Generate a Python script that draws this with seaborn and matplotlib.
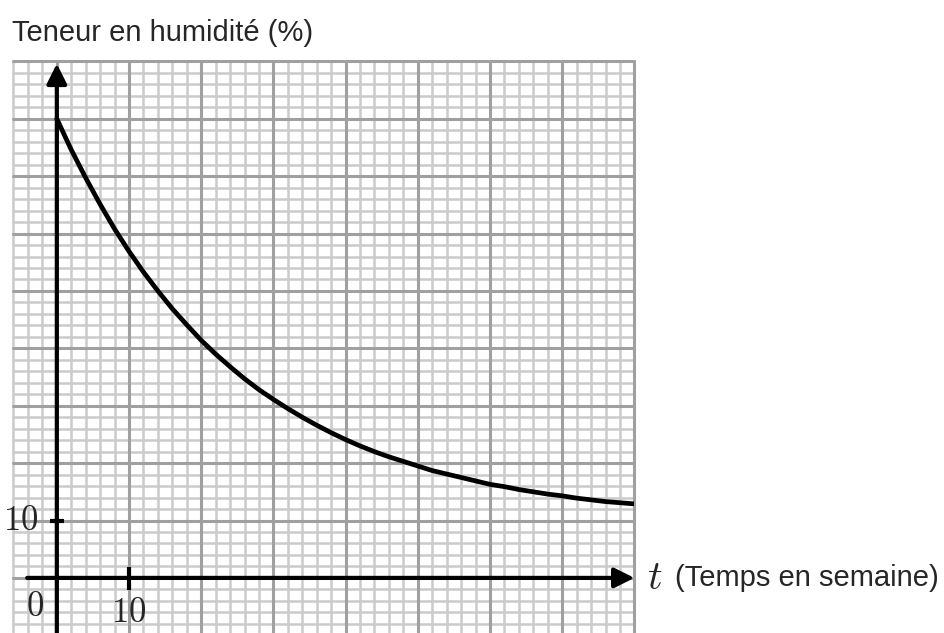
import numpy as np
import pandas as pd
import seaborn as sns
import matplotlib
matplotlib.use("Agg")
import matplotlib.pyplot as plt

# Data
t_weeks = [0, 2, 4, 6, 8, 10, 12, 14, 16, 18, 20, 22, 24, 26, 28, 30, 32, 34, 36, 38, 40,
           42, 44, 46, 48, 50, 52, 54, 56, 58, 60, 62, 64, 66, 68, 70, 72, 74, 76, 78, 80]
humidity = [80.0, 74.6, 69.7, 65.1, 60.8, 56.9, 53.3, 50.0, 46.9, 44.1, 41.4,
            39.0, 36.8, 34.7, 32.8, 31.1, 29.5, 28.0, 26.6, 25.3, 24.1,
            23.0, 22.0, 21.1, 20.3, 19.5, 18.7, 18.1, 17.5, 16.9, 16.3,
            15.9, 15.4, 15.0, 14.6, 14.3, 13.9, 13.6, 13.3, 13.1, 12.9]
x_tick_values = [10]
y_tick_values = [10]
origin_label = "0"
y_title = "Teneur en humidité (%)"
x_title = "(Temps en semaine)"

sns.set_style("white")
plt.rcParams["font.family"] = ["Liberation Sans", "DejaVu Sans"]
plt.rcParams["mathtext.fontset"] = "cm"

fig = plt.figure(figsize=(9.45, 6.33), dpi=100)
W, H = 945, 633
x0, x1 = 13.5, 634.4
ytop = 61.4
ax = fig.add_axes([x0 / W, 0, (x1 - x0) / W, (H - ytop) / H])
ax.set_xlim(-6, 80)
ax.set_ylim(-9.6, 90)

# grid paper
for v in np.arange(-6, 81, 2):
    major = (v % 10 == 0)
    ax.axvline(v, color="#a0a0a0" if major else "#cbcbcb",
               lw=2.2 if major else 1.8, zorder=1 if major else 0, clip_on=False)
for v in np.arange(-8, 91, 2):
    major = (v % 10 == 0)
    ax.axhline(v, color="#a0a0a0" if major else "#cbcbcb",
               lw=2.2 if major else 1.8, zorder=1 if major else 0, clip_on=False)
for s in ax.spines.values():
    s.set_visible(False)
ax.set_xticks([])
ax.set_yticks([])

# curve
df = pd.DataFrame({"t": t_weeks, "h": humidity})
sns.lineplot(data=df, x="t", y="h", ax=ax, color="black", lw=3.4, zorder=5,
             solid_joinstyle="round")
ax.set_xlabel("")
ax.set_ylabel("")

# axes arrows
arrow = dict(arrowstyle="-|>,head_length=0.6,head_width=0.3", color="black",
             lw=3, shrinkA=0, shrinkB=0, mutation_scale=20)
ax.annotate("", xy=(80.0, 0), xytext=(-4.1, 0), arrowprops=arrow, zorder=6,
            annotation_clip=False)
ax.annotate("", xy=(0, 89.6), xytext=(0, -9.6), arrowprops=arrow, zorder=6,
            annotation_clip=False)

# ticks
for xv in x_tick_values:
    ax.plot([xv, xv], [-2.1, 1.9], color="black", lw=3, zorder=6, solid_capstyle="butt")
    ax.text(xv, -6.0, f"${xv}$", ha="center", va="center", fontsize=25, zorder=7)
for yv in y_tick_values:
    ax.plot([-1.0, 1.0], [yv, yv], color="black", lw=3, zorder=6, solid_capstyle="butt")
    ax.text(-2.6, yv, f"${yv}$", ha="right", va="center", fontsize=25, zorder=7)
ax.text(-3.0, -5.0, f"${origin_label}$", ha="center", va="center", fontsize=25, zorder=7)

# titles
fig.text(12 / W, 1 - 33 / H, y_title, ha="left", va="center", fontsize=21)
fig.text(647 / W, 1 - 578 / H, "$t$", ha="left", va="center", fontsize=29)
fig.text(675 / W, 1 - 578 / H, x_title, ha="left", va="center", fontsize=21)

fig.savefig("out.png", dpi=100)
